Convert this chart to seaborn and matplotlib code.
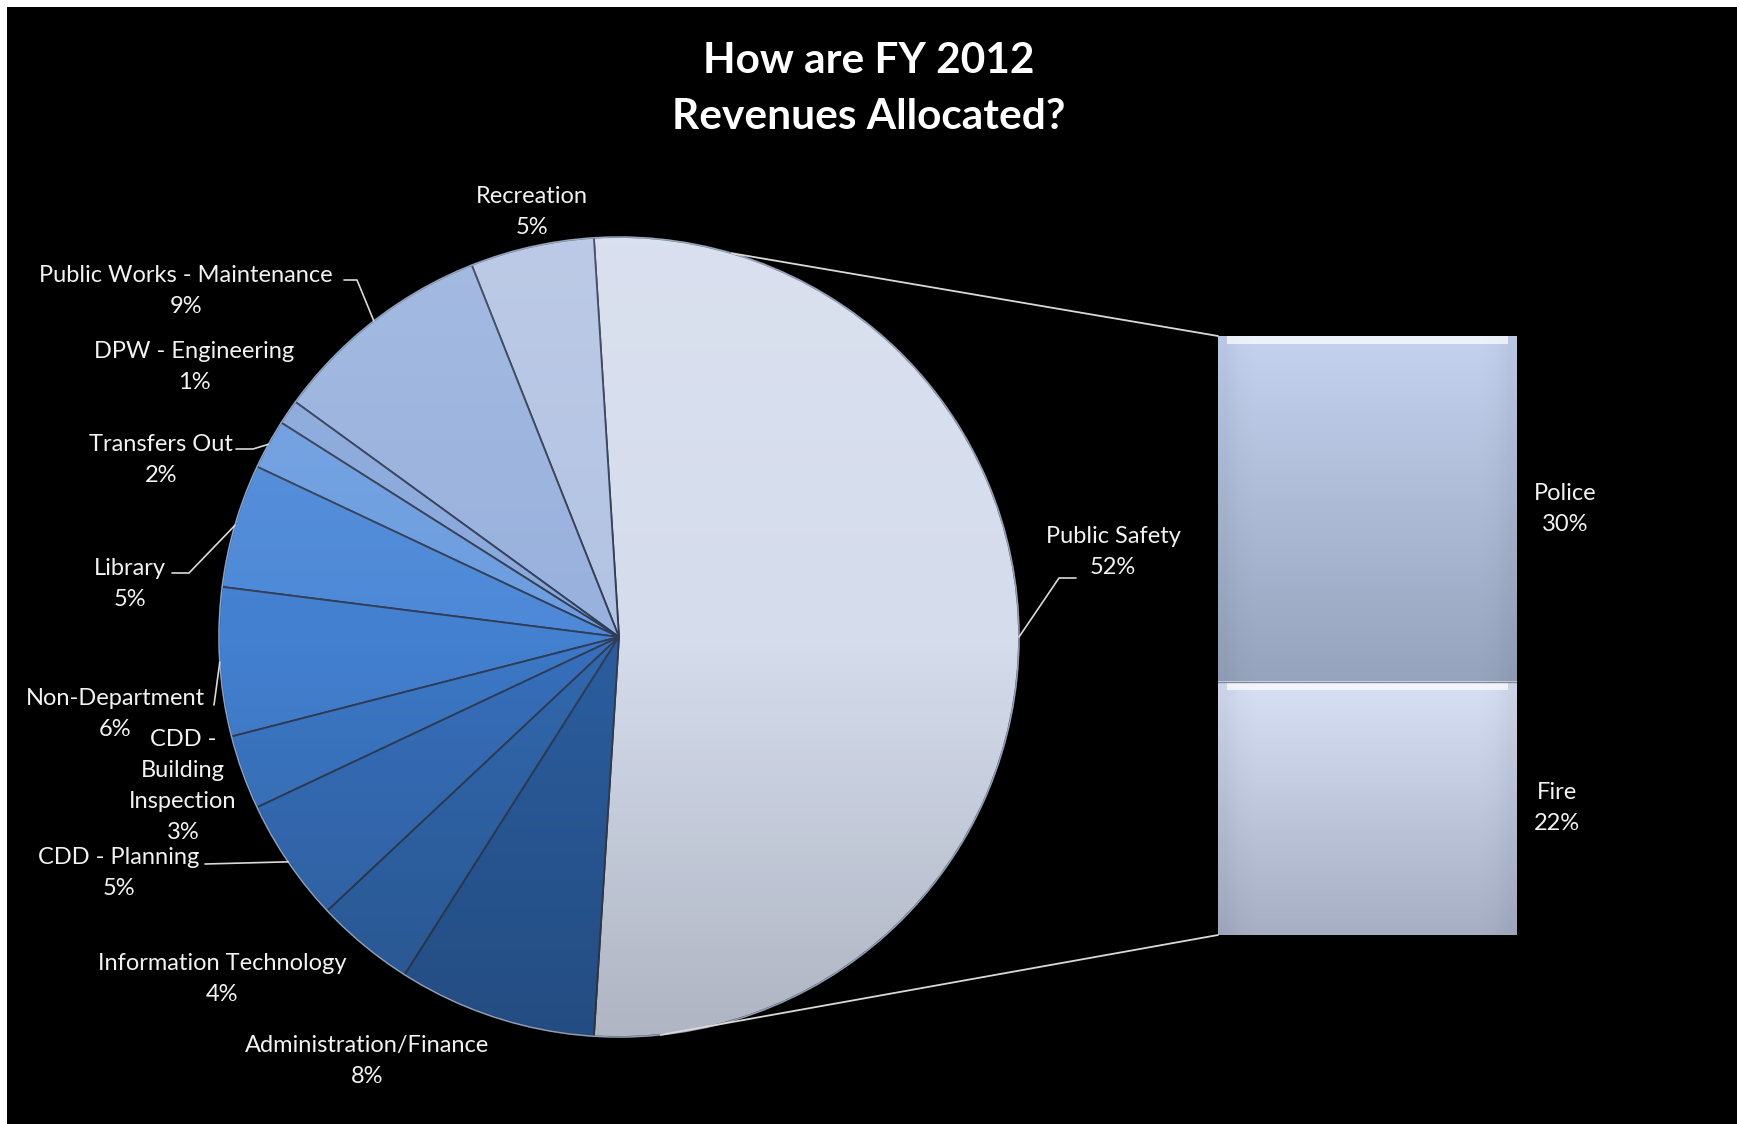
import numpy as np
import pandas as pd
import matplotlib
matplotlib.use("Agg")
import matplotlib.pyplot as plt
import seaborn as sns
from matplotlib.patches import Rectangle, Circle, ConnectionPatch
from matplotlib.colors import to_rgb

# ---------------- data ----------------
categories = ["Public Safety", "Recreation", "Public Works - Maintenance", "DPW - Engineering",
              "Transfers Out", "Library", "Non-Department", "CDD -\nBuilding\nInspection",
              "CDD - Planning", "Information Technology", "Administration/Finance"]
shares = [52, 5, 9, 1, 2, 5, 6, 3, 5, 4, 8]
sub_categories = ["Police", "Fire"]
sub_shares = [30, 22]
title = "How are FY 2012\nRevenues Allocated?"

slice_colors = ["#d5dcec", "#b3c3e3", "#98b1dd", "#88a7db", "#6c9de0", "#4d89d8",
                "#4380d0", "#3c78c6", "#376fbb", "#3168ae", "#2b5d9e"]
police_grad = ("#c4d2f0", "#95a3bc")
fire_grad = ("#d8e0f5", "#a6aec4")

# ---------------- style ----------------
sns.set_theme(style="dark")
plt.rcParams["font.family"] = ["Lato", "DejaVu Sans"]

W, H = 1739, 1124
fig = plt.figure(figsize=(W / 100, H / 100), dpi=100, facecolor="white")
ax = fig.add_axes([0, 0, 1, 1])
ax.add_patch(Rectangle((7, 0), 1730, H - 7, facecolor="black", edgecolor="none", zorder=0))

cx, cy, R = 619, H - 637, 400
start = -shares[0] / sum(shares) * 360 / 2
wedges, _ = ax.pie(shares, colors=slice_colors, startangle=start, counterclock=True,
                   radius=R, center=(cx, cy),
                   wedgeprops=dict(edgecolor="#2f3d58", linewidth=1.3))

# subtle vertical shading over the pie
n = 400
t = np.linspace(0, 1, n)[:, None] * np.ones((1, n))
ov = np.zeros((n, n, 4))
ov[..., :3] = np.where(t[..., None] < 0.5, 1.0, 0.0)
ov[..., 3] = np.where(t < 0.5, 0.12 * (1 - 2 * t), 0.18 * (2 * t - 1))
im = ax.imshow(ov, extent=(cx - R, cx + R, cy - R, cy + R), origin="upper", zorder=3,
               interpolation="bilinear")
im.set_clip_path(Circle((cx, cy), R, transform=ax.transData))
ax.add_patch(Circle((cx, cy), R, facecolor="none", edgecolor="#dfe6f5", lw=1.0, alpha=0.6, zorder=4))

# ---------------- labels ----------------
label_pos = [(1113, 552), (532, 212), (186, 291), (194, 367), (161, 460), (130, 584),
             (115, 714), (183, 786), (119, 873), (222, 979), (367, 1061)]
for name, val, (lx, ly) in zip(categories, shares, label_pos):
    ax.text(lx, H - ly, f"{name}\n{val}%", ha="center", va="center", multialignment="center",
            color="#f2f2f2", fontsize=17, linespacing=1.58, zorder=6)

# leader lines: (category index, stub points in image px)
leaders = [(0, [(1076, 578), (1059, 578)]),
           (2, [(344, 280), (357, 280)]),
           (4, [(236, 449), (253, 449)]),
           (5, [(172, 573), (189, 573)]),
           (6, [(214, 705)]),
           (8, [(205, 864)])]
for idx, pts in leaders:
    w = wedges[idx]
    ang = np.deg2rad((w.theta1 + w.theta2) / 2)
    px, py = cx + R * np.cos(ang), cy + R * np.sin(ang)
    xs = [p[0] for p in pts] + [px]
    ys = [H - p[1] for p in pts] + [py]
    ax.plot(xs, ys, color="#d9d9d9", lw=1.2, zorder=5)

ax.set_xlim(0, W)
ax.set_ylim(0, H)
ax.set_aspect("equal")
ax.axis("off")

fig.text(869 / W, 1 - 89 / H, title, ha="center", va="center", fontsize=30.5,
         fontweight="bold", color="white", linespacing=1.58)

# ---------------- secondary stacked bar ----------------
bx0, bx1, by0, by1 = 1218, 1517, 336, 935
ax2 = fig.add_axes([bx0 / W, (H - by1) / H, (bx1 - bx0) / W, (by1 - by0) / H])
total = sum(sub_shares)
df = pd.DataFrame({"group": ["Public Safety"], "total": [total], "fire": [sub_shares[1]]})
sns.barplot(data=df, x="group", y="total", color=police_grad[0], saturation=1, width=1,
            errorbar=None, ax=ax2, edgecolor="none")
sns.barplot(data=df, x="group", y="fire", color=fire_grad[0], saturation=1, width=1,
            errorbar=None, ax=ax2, edgecolor="none")

fire = sub_shares[1]

def grad_img(c_top, c_bot, n=200):
    a, b = np.array(to_rgb(c_top)), np.array(to_rgb(c_bot))
    tt = np.linspace(0, 1, n)[:, None, None]
    img = a * (1 - tt) + b * tt
    img = np.repeat(img, 20, axis=1)
    xx = np.linspace(-1, 1, 20)[None, :, None]
    img = img * (1 - 0.05 * np.clip(np.abs(xx) - 0.85, 0, 1) / 0.15)
    return img

ytr = ax2.get_yaxis_transform()
ax2.imshow(grad_img(*police_grad), extent=(0, 1, fire, total), origin="upper",
           aspect="auto", zorder=3, interpolation="bilinear", transform=ytr)
ax2.imshow(grad_img(*fire_grad), extent=(0, 1, 0, fire), origin="upper",
           aspect="auto", zorder=3, interpolation="bilinear", transform=ytr)
for ytop in (total, fire):
    ax2.add_patch(Rectangle((0.03, ytop - 0.7), 0.94, 0.7, facecolor="white", alpha=0.7,
                            edgecolor="none", zorder=4, transform=ytr))
ax2.axhline(fire, color="#7f889c", lw=1.0, zorder=4)

ax2.set_xlim(-0.5, 0.5)
ax2.set_ylim(0, total)
ax2.axis("off")

for name, val, ymid in zip(sub_categories, sub_shares, [fire + sub_shares[0] / 2, fire / 2]):
    ax2.text(1.057, ymid, f"{name}\n{val}%", transform=ytr,
             ha="left", va="center", multialignment="center", color="#f2f2f2",
             fontsize=17, linespacing=1.58)

# connector lines pie -> bar
for ang_deg, ybar in [(73.6, total), (-84.0, 0)]:
    a = np.deg2rad(ang_deg)
    con = ConnectionPatch(xyA=(0, ybar), coordsA=ytr,
                          xyB=(cx + R * np.cos(a), cy + R * np.sin(a)), coordsB=ax.transData,
                          color="#d9d9d9", lw=1.3, zorder=5)
    fig.add_artist(con)

fig.savefig("out.png", dpi=100, facecolor=fig.get_facecolor())
